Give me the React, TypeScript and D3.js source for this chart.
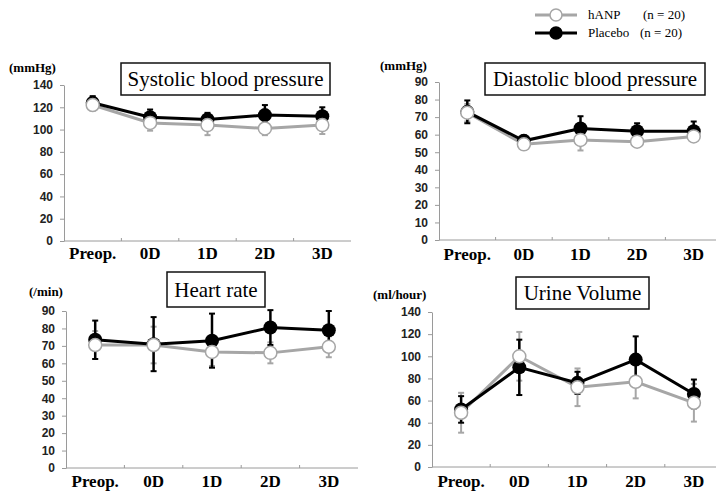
import React, { useEffect, useRef } from 'react';
import * as d3 from 'd3';

const categories = ['Preop.', '0D', '1D', '2D', '3D'];

// systolic blood pressure (mmHg)
const sbpHanp = [122, 106, 104, 101, 104];
const sbpHanpSd = [5, 7, 9, 6, 8];
const sbpPlacebo = [124, 111, 109, 113, 112];
const sbpPlaceboSd = [6, 7, 6, 9, 8];

// diastolic blood pressure (mmHg)
const dbpHanp = [72.5, 54.5, 57, 56, 59];
const dbpHanpSd = [5, 3, 6, 3, 3];
const dbpPlacebo = [73, 56.5, 63.5, 62, 62];
const dbpPlaceboSd = [6.5, 3, 7, 4.5, 5.5];

// heart rate (/min)
const hrHanp = [70.5, 70.5, 66.5, 66, 69.5];
const hrHanpSd = [8, 10.5, 8, 6, 6];
const hrPlacebo = [73.5, 71, 73, 80.5, 79];
const hrPlaceboSd = [11, 15.5, 15.5, 10, 11];

// urine volume (ml/hour)
const uvHanp = [49, 100, 72, 77, 58];
const uvHanpSd = [18, 22, 17, 15, 17];
const uvPlacebo = [52, 90, 76, 97, 66];
const uvPlaceboSd = [12, 25, 10, 21, 13];

interface Panel {
  title: string;
  unit: string;
  max: number;
  step: number;
  hanp: number[];
  hanpSd: number[];
  placebo: number[];
  placeboSd: number[];
  x0: number;
  x1: number;
  yTop: number;
  yBottom: number;
  unitX: number;
  unitY: number;
  box: [number, number, number, number];
  labelY: number;
}

const panels: Panel[] = [
  {
    title: 'Systolic blood pressure', unit: '(mmHg)', max: 140, step: 20,
    hanp: sbpHanp, hanpSd: sbpHanpSd, placebo: sbpPlacebo, placeboSd: sbpPlaceboSd,
    x0: 64, x1: 351, yTop: 85, yBottom: 241, unitX: 9, unitY: 72,
    box: [121, 63, 209, 32], labelY: 259,
  },
  {
    title: 'Diastolic blood pressure', unit: '(mmHg)', max: 90, step: 10,
    hanp: dbpHanp, hanpSd: dbpHanpSd, placebo: dbpPlacebo, placeboSd: dbpPlaceboSd,
    x0: 439, x1: 722, yTop: 82, yBottom: 240, unitX: 380, unitY: 70,
    box: [485, 63, 220, 32], labelY: 260,
  },
  {
    title: 'Heart rate', unit: '(/min)', max: 90, step: 10,
    hanp: hrHanp, hanpSd: hrHanpSd, placebo: hrPlacebo, placeboSd: hrPlaceboSd,
    x0: 66, x1: 358, yTop: 311, yBottom: 468, unitX: 29, unitY: 296,
    box: [167, 272, 98, 35], labelY: 487,
  },
  {
    title: 'Urine Volume', unit: '(ml/hour)', max: 140, step: 20,
    hanp: uvHanp, hanpSd: uvHanpSd, placebo: uvPlacebo, placeboSd: uvPlaceboSd,
    x0: 432, x1: 723, yTop: 312, yBottom: 467, unitX: 373, unitY: 299,
    box: [516, 277, 133, 32], labelY: 487,
  },
];

const GRAY = '#a6a6a6';
const AXIS = '#9a9a9a';
const SERIF = '"Liberation Serif", "Times New Roman", serif';
const SANS = '"Liberation Sans", Arial, sans-serif';

const App = () => {
  const ref = useRef<SVGSVGElement>(null);

  useEffect(() => {
    const svg = d3.select(ref.current);
    svg.selectAll('*').remove();

    panels.forEach(p => {
      const g = svg.append('g');
      const x = d3.scaleBand<string>().domain(categories).range([p.x0, p.x1]);
      const y = d3.scaleLinear().domain([0, p.max]).range([p.yBottom, p.yTop]);
      const cx = (i: number) => x(categories[i])! + x.bandwidth() / 2;

      // y axis
      const yAxis = d3
        .axisLeft(y)
        .tickValues(d3.range(0, p.max + 0.1, p.step))
        .tickSize(4)
        .tickSizeOuter(0)
        .tickPadding(7);
      const ya = g.append('g').attr('transform', `translate(${p.x0},0)`).call(yAxis);
      ya.selectAll('path, line').attr('stroke', AXIS);
      ya.selectAll('text')
        .attr('fill', '#222')
        .style('font-family', SANS)
        .style('font-weight', 'bold')
        .style('font-size', '12px');

      // x axis line + ticks at band boundaries
      g.append('line')
        .attr('x1', p.x0)
        .attr('x2', p.x1)
        .attr('y1', p.yBottom)
        .attr('y2', p.yBottom)
        .attr('stroke', AXIS);
      categories.slice(1).forEach(c => {
        g.append('line')
          .attr('x1', x(c)!)
          .attr('x2', x(c)!)
          .attr('y1', p.yBottom)
          .attr('y2', p.yBottom - 3)
          .attr('stroke', AXIS);
      });

      // category labels
      categories.forEach((c, i) => {
        g.append('text')
          .attr('x', cx(i))
          .attr('y', p.labelY)
          .attr('text-anchor', 'middle')
          .style('font-family', SERIF)
          .style('font-weight', 'bold')
          .style('font-size', '17px')
          .text(c);
      });

      // unit
      g.append('text')
        .attr('x', p.unitX)
        .attr('y', p.unitY)
        .style('font-family', SERIF)
        .style('font-weight', 'bold')
        .style('font-size', '13px')
        .text(p.unit);

      // title box
      const [bx, by, bw, bh] = p.box;
      g.append('rect')
        .attr('x', bx)
        .attr('y', by)
        .attr('width', bw)
        .attr('height', bh)
        .attr('fill', 'white')
        .attr('stroke', '#111')
        .attr('stroke-width', 1.5);
      g.append('text')
        .attr('x', bx + bw / 2)
        .attr('y', by + bh / 2 + 7)
        .attr('text-anchor', 'middle')
        .style('font-family', SERIF)
        .style('font-size', '21px')
        .text(p.title);

      const series = [
        { v: p.hanp, sd: p.hanpSd, color: GRAY, bw: 2 },
        { v: p.placebo, sd: p.placeboSd, color: '#000', bw: 2.5 },
      ];

      // error bars
      series.forEach(s => {
        s.v.forEach((v, i) => {
          const xc = cx(i);
          g.append('line')
            .attr('x1', xc)
            .attr('x2', xc)
            .attr('y1', y(v - s.sd[i]))
            .attr('y2', y(v + s.sd[i]))
            .attr('stroke', s.color)
            .attr('stroke-width', s.bw);
          [v - s.sd[i], v + s.sd[i]].forEach(e => {
            g.append('line')
              .attr('x1', xc - 3)
              .attr('x2', xc + 3)
              .attr('y1', y(e))
              .attr('y2', y(e))
              .attr('stroke', s.color)
              .attr('stroke-width', 2);
          });
        });
      });

      // lines
      const line = d3
        .line<number>()
        .x((_, i) => cx(i))
        .y(d => y(d));
      series.forEach(s => {
        g.append('path')
          .datum(s.v)
          .attr('fill', 'none')
          .attr('stroke', s.color)
          .attr('stroke-width', 3)
          .attr('d', line);
      });

      // markers: placebo first, then hANP on top
      p.placebo.forEach((v, i) => {
        g.append('circle').attr('cx', cx(i)).attr('cy', y(v)).attr('r', 7).attr('fill', '#000');
      });
      p.hanp.forEach((v, i) => {
        g.append('circle')
          .attr('cx', cx(i))
          .attr('cy', y(v))
          .attr('r', 6.5)
          .attr('fill', 'white')
          .attr('stroke', GRAY)
          .attr('stroke-width', 1.5);
      });
    });

    // legend
    const legend = [
      { name: 'hANP', n: '(n = 20)', color: GRAY, filled: false, y: 15, nx: 643 },
      { name: 'Placebo', n: '(n = 20)', color: '#000', filled: true, y: 33, nx: 640 },
    ];
    legend.forEach(l => {
      svg.append('line')
        .attr('x1', 535)
        .attr('x2', 577)
        .attr('y1', l.y)
        .attr('y2', l.y)
        .attr('stroke', l.color)
        .attr('stroke-width', 3);
      svg.append('circle')
        .attr('cx', 556)
        .attr('cy', l.y)
        .attr('r', 6)
        .attr('fill', l.filled ? '#000' : 'white')
        .attr('stroke', l.color)
        .attr('stroke-width', 1.5);
      svg.append('text')
        .attr('x', 588)
        .attr('y', l.y + 4)
        .style('font-family', SERIF)
        .style('font-size', '13px')
        .text(l.name);
      svg.append('text')
        .attr('x', l.nx)
        .attr('y', l.y + 4)
        .style('font-family', SERIF)
        .style('font-size', '13px')
        .text(l.n);
    });
  }, []);

  return (
    <svg
      ref={ref}
      width={716}
      height={491}
      style={{ position: 'absolute', left: 0, top: 0, background: 'white' }}
    />
  );
};

export default App;
